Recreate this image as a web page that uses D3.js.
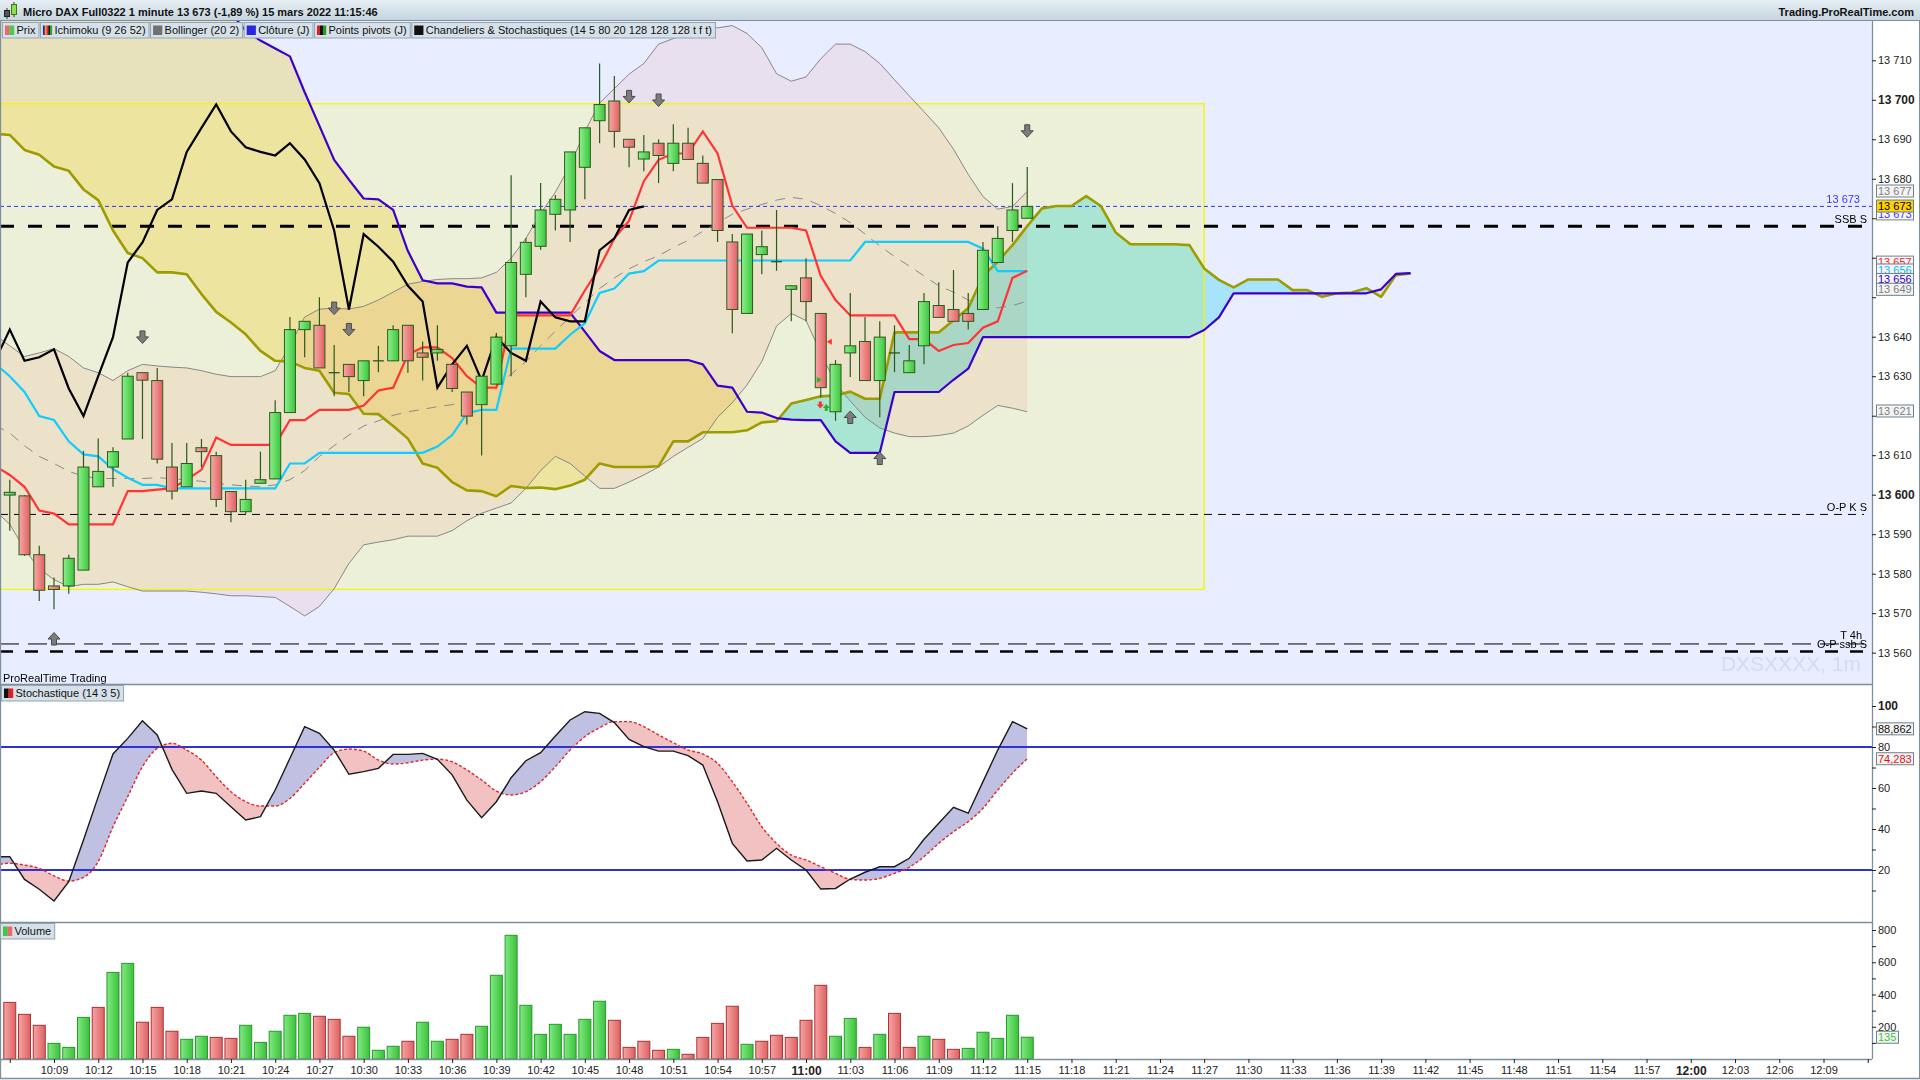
<!DOCTYPE html>
<html><head><meta charset="utf-8">
<script src="https://cdn.jsdelivr.net/npm/d3@7/dist/d3.min.js"></script>
<style>
html,body{margin:0;padding:0;background:#fff;}
svg{display:block;font-family:"Liberation Sans",Arial,sans-serif;}
</style></head><body>
<svg id="c" width="1920" height="1080"></svg>
<script>
// ---------------- DATA ----------------
const titleText = "Micro DAX Full0322 1 minute 13 673 (-1,89 %) 15 mars 2022 11:15:46";
const siteText = "Trading.ProRealTime.com";
const legendNames = ["Prix","Ichimoku (9 26 52)","Bollinger (20 2)","Clôture (J)","Points pivots (J)","Chandeliers & Stochastiques (14 5 80 20 128 128 128 t f t)"];
const watermark = "DXSXXXX, 1m";

const candleStart = "10:06";
const opens = [13599.9,13599.7,13584.8,13576.9,13576.9,13580.9,13602.0,13607.0,13614.1,13630.9,
 13628.9,13607.0,13602.0,13611.9,13609.9,13600.8,13595.7,13602.9,13604.0,13620.8,
 13641.8,13642.9,13630.9,13633.0,13628.9,13633.9,13633.9,13642.9,13635.9,13635.9,
 13633.0,13626.0,13622.8,13628.0,13637.7,13655.8,13662.9,13671.0,13672.1,13682.9,
 13694.7,13699.7,13690.0,13685.0,13689.0,13683.9,13689.0,13683.9,13679.8,13664.0,
 13645.9,13660.8,13659.0,13652.0,13654.9,13645.9,13621.0,13635.9,13638.8,13628.9,
 13635.9,13630.9,13637.7,13647.9,13646.9,13645.9,13646.9,13658.8,13666.9,13670.0];
const highs = [13603.8,13599.9,13587.1,13579.0,13584.8,13611.1,13614.2,13612.0,13630.9,13630.9,
 13632.1,13613.1,13613.1,13614.1,13610.9,13600.8,13603.8,13610.9,13623.9,13645.0,
 13643.9,13650.0,13637.9,13633.0,13633.9,13637.7,13642.9,13642.9,13638.8,13642.9,
 13633.0,13626.0,13630.0,13641.0,13680.9,13665.0,13678.9,13675.9,13686.8,13692.9,
 13709.2,13706.0,13690.0,13691.1,13690.0,13693.8,13692.9,13685.9,13679.8,13666.0,
 13666.0,13666.9,13672.1,13652.9,13659.9,13645.9,13634.1,13651.1,13645.0,13643.9,
 13642.9,13637.9,13651.1,13653.8,13656.9,13651.1,13664.0,13668.0,13678.9,13683.0];
const lows = [13590.9,13584.5,13573.1,13571.0,13574.9,13580.9,13602.0,13602.0,13614.1,13614.1,
 13607.9,13598.8,13602.0,13607.0,13596.9,13593.0,13595.2,13602.9,13604.0,13620.8,
 13634.8,13632.1,13624.9,13626.0,13624.9,13631.0,13633.9,13630.9,13628.9,13633.9,
 13626.0,13617.8,13609.9,13628.0,13630.0,13650.0,13662.0,13666.9,13664.0,13674.8,
 13689.0,13687.9,13682.9,13681.9,13678.9,13681.9,13684.9,13678.9,13664.0,13640.9,
 13645.9,13655.8,13656.7,13643.9,13643.9,13624.6,13618.7,13629.8,13628.9,13619.6,
 13631.0,13630.9,13633.0,13644.9,13643.9,13641.8,13646.9,13658.8,13664.0,13670.0];
const closes = [13600.6,13584.8,13575.8,13576.0,13583.9,13607.0,13605.9,13610.9,13630.0,13629.0,
 13609.0,13600.9,13607.9,13610.9,13598.8,13595.7,13598.8,13603.8,13620.8,13641.8,
 13643.9,13632.1,13630.9,13629.9,13633.9,13633.9,13641.8,13633.9,13634.8,13636.8,
 13626.9,13619.9,13630.0,13639.9,13658.8,13663.9,13672.1,13674.8,13686.8,13692.9,
 13698.8,13692.0,13688.0,13686.8,13685.9,13689.0,13684.9,13678.9,13666.9,13646.9,
 13666.0,13662.8,13659.0,13652.9,13648.9,13627.1,13633.0,13637.7,13628.9,13639.9,
 13635.9,13633.9,13648.9,13644.9,13643.9,13643.9,13661.9,13664.9,13672.1,13673.0];
const volumes = [351,277,209,97,72,258,320,537,593,228,
 320,172,122,141,134,128,209,103,172,271,
 283,265,246,141,197,54,79,110,228,110,
 122,153,203,519,767,333,153,215,153,246,
 358,240,72,110,54,60,29,134,221,327,
 91,110,147,134,240,457,141,252,72,153,
 283,72,141,122,60,66,166,128,271,135];
const volumeUp = [0,0,0,1,1,1,0,1,1,0,
 0,0,1,1,0,0,1,1,1,1,
 1,0,0,0,1,1,1,0,1,1,
 0,0,1,1,1,1,1,1,1,1,
 1,0,0,0,0,1,0,0,0,0,
 1,0,0,0,0,0,1,1,0,1,
 0,0,1,0,0,1,1,1,1,1];

const lineStart = "10:05";
const tenkan = [13607.3,13605.0,13602.0,13596.0,13595.2,13592.5,13592.5,13592.5,13592.5,13600.9,
 13600.9,13601.3,13601.6,13603.8,13606.3,13614.5,13612.6,13612.6,13612.6,13612.6,
 13618.9,13618.9,13621.5,13621.5,13621.5,13622.6,13626.4,13627.1,13635.5,13637.3,
 13637.3,13634.6,13630.0,13627.1,13627.1,13645.4,13645.4,13645.4,13645.4,13645.4,
 13651.7,13657.6,13664.9,13669.4,13679.4,13684.8,13686.4,13686.4,13692.0,13686.4,
 13673.2,13667.6,13667.6,13667.6,13667.6,13666.9,13655.4,13649.3,13645.4,13645.4,
 13645.4,13645.4,13639.4,13639.4,13636.4,13637.9,13638.4,13642.3,13643.9,13654.9,13656.7];
const kijun = [13633.2,13630.0,13626.0,13619.9,13618.9,13613.5,13610.2,13609.7,13606.5,13604.3,
 13602.5,13602.5,13601.6,13601.6,13601.6,13601.6,13601.6,13601.6,13601.6,13601.6,
 13607.9,13607.9,13610.6,13610.6,13610.6,13610.6,13610.6,13610.6,13610.6,13610.6,
 13612.2,13615.1,13620.6,13621.5,13621.5,13637.0,13637.0,13637.0,13637.0,13640.5,
 13643.4,13651.1,13652.2,13656.0,13656.6,13659.3,13659.3,13659.3,13659.3,13659.3,
 13659.3,13659.3,13659.3,13659.3,13659.3,13659.3,13659.3,13659.3,13659.3,13664.0,
 13664.0,13664.0,13664.0,13664.0,13664.0,13664.0,13664.0,13662.3,13656.6,13656.6,13656.6];
const chikou = [13633.9,13641.8,13633.9,13634.8,13636.8,13626.9,13619.9,13630.0,13639.9,13658.8,
 13663.9,13672.1,13674.8,13686.8,13692.9,13698.8,13692.0,13688.0,13686.8,13685.9,
 13689.0,13684.9,13678.9,13666.9,13646.9,13666.0,13662.8,13659.0,13652.9,13648.9,
 13627.1,13633.0,13637.7,13628.9,13639.9,13635.9,13633.9,13648.9,13644.9,13643.9,
 13643.9,13661.9,13664.9,13672.1,13673.0];
const spanA = [13691.4,13691.1,13687.3,13686.1,13683.1,13682.0,13677.3,13674.6,13666.9,13661.2,
 13659.9,13656.3,13656.3,13655.8,13650.8,13646.3,13643.6,13640.6,13636.4,13633.9,
 13633.7,13632.1,13631.4,13625.8,13625.5,13620.5,13620.4,13617.4,13614.2,13607.9,
 13606.8,13603.2,13601.1,13600.9,13599.6,13602.2,13601.7,13601.8,13601.4,13602.3,
 13603.8,13607.9,13607.0,13607.0,13607.0,13607.2,13613.5,13613.5,13615.8,13615.8,
 13615.8,13616.3,13618.3,13618.6,13623.1,13624.0,13624.9,13625.1,13626.1,13624.3,
 13624.3,13641.1,13641.1,13641.1,13641.1,13644.2,13647.2,13655.4,13659.0,13663.2,
 13668.0,13672.5,13673.1,13673.1,13675.6,13673.1,13666.4,13663.4,13663.4,13663.4,
 13663.4,13663.2,13657.3,13654.4,13652.5,13654.5,13654.5,13654.5,13651.8,13651.8,
 13650.1,13651.0,13651.2,13652.3,13650.1,13655.6,13656.0];
const spanB = [13730,13730,13730,13730,13730,13730,13730,13730,13730,13730,
 13730,13730,13730,13730,13730,13730,13722,13717.5,13715,13713,
 13711,13701.9,13693.4,13684.8,13679.8,13675.0,13674.8,13672.1,13661.7,13654.3,
 13653.5,13653.5,13652.7,13652.5,13646.1,13646.1,13646.1,13646.1,13646.1,13646.1,
 13641.3,13636.4,13634.1,13634.1,13634.1,13634.1,13634.1,13634.1,13633.0,13627.6,
 13627.1,13621.0,13620.8,13619.4,13619.0,13618.9,13618.9,13613.5,13610.6,13610.6,
 13610.6,13626.0,13626.0,13626.0,13626.0,13629.1,13631.9,13639.9,13639.9,13639.9,
 13639.9,13639.9,13639.9,13639.9,13639.9,13639.9,13639.9,13639.9,13639.9,13639.9,
 13639.9,13639.9,13641.7,13644.9,13651.0,13651.0,13651.0,13651.0,13651.0,13651.0,
 13651.0,13651.0,13651.0,13651.0,13652.0,13655.9,13656.1];
const bollUpper = [13640.4,13637.7,13635.0,13635.9,13637.0,13635.0,13632.1,13630.9,13628.9,13631.4,
 13633.0,13632.6,13632.3,13632.1,13631.4,13630.5,13629.9,13629.9,13629.9,13631.4,
 13637.7,13645.0,13647.0,13647.2,13647.0,13647.7,13649.3,13651.3,13653.3,13654.0,
 13654.5,13654.7,13654.7,13654.9,13656.3,13659.9,13664.9,13671.2,13676.6,13683.4,
 13692.0,13699.2,13702.8,13706.5,13709.2,13714.1,13715.5,13716.9,13719.1,13718.2,
 13718.8,13716.8,13713.2,13706.6,13704.7,13705.8,13710.4,13714.1,13714.1,13712.2,
 13709.2,13705.1,13701.0,13697.0,13692.9,13687.5,13681.1,13675.5,13672.3,13673.0,13676.8];
const bollMid = [13617.6,13615.6,13612.4,13609.7,13607.9,13605.9,13604.7,13604.1,13604.1,13604.1,
 13604.1,13604.3,13604.1,13603.7,13603.4,13602.9,13602.5,13602.2,13602.0,13602.5,
 13603.8,13606.1,13609.7,13612.4,13615.1,13617.4,13618.7,13620.1,13621.0,13621.6,
 13622.3,13622.8,13623.7,13625.5,13627.3,13630.5,13633.7,13637.7,13641.4,13645.0,
 13648.6,13652.2,13654.9,13657.2,13659.0,13660.5,13662.6,13664.4,13666.7,13668.9,
 13671.0,13672.3,13673.5,13674.6,13675.3,13674.8,13673.2,13671.2,13668.9,13666.0,
 13663.0,13660.3,13657.9,13655.4,13652.9,13651.3,13649.3,13647.9,13647.3,13647.9,13649.0];
const bollLower = [13596.0,13592.5,13586.2,13581.2,13578.5,13576.7,13577.3,13577.3,13577.9,13576.7,
 13575.6,13575.6,13575.6,13575.6,13575.3,13574.9,13574.4,13574.4,13574.2,13574.0,
 13571.7,13569.3,13571.7,13576.2,13582.6,13587.3,13588.0,13588.6,13589.5,13589.5,
 13589.5,13590.9,13593.4,13595.3,13596.6,13597.9,13601.6,13606.1,13609.7,13607.9,
 13604.7,13601.6,13601.6,13603.2,13605.0,13607.0,13609.7,13612.0,13614.2,13619.6,
 13623.3,13627.8,13633.7,13642.7,13645.9,13644.1,13635.9,13628.2,13623.7,13619.6,
 13616.9,13615.6,13614.7,13614.7,13615.0,13615.6,13617.4,13620.1,13622.6,13621.9,13621.0];
const stochK = [26.5,26.5,15.4,10.6,4.9,14.3,34.6,55.8,76.6,84.2,
 92.8,85.9,69.1,57.4,58.5,57.4,50.9,44.4,46.0,59.0,
 74.5,89.9,86.7,78.5,66.7,68.0,69.6,76.4,76.4,76.9,
 74.0,66.4,54.1,45.5,53.3,65.0,73.3,77.2,85.4,93.2,
 97.2,96.4,91.9,83.7,80.2,78.0,78.0,75.8,71.2,53.3,
 33.0,24.4,24.9,30.6,24.9,20.0,10.7,11.0,15.6,18.9,
 21.6,21.6,25.7,35.0,42.8,50.6,47.7,63.1,78.5,92.4,88.9];
const stochD = [22.5,23.3,22.4,20.8,17.1,14.6,16.4,24.1,41.1,55.8,
 70.4,79.3,81.8,78.5,73.6,65.5,58.2,53.3,51.2,51.2,
 54.9,62.3,70.1,77.2,79.0,78.0,73.6,71.7,72.3,73.6,
 74.1,72.8,68.8,63.9,58.5,56.6,58.2,63.1,70.4,78.5,
 85.0,89.4,92.4,92.4,89.9,85.9,82.1,78.5,76.6,72.0,
 63.1,52.5,41.1,33.0,27.3,24.9,21.6,18.4,15.4,15.1,
 15.9,18.4,21.3,26.5,33.0,38.7,43.6,50.1,59.0,67.2,74.3];
const stochLevels = [80, 20];

const boxStart = "10:00", boxEnd = "11:27", boxHigh = 13699, boxLow = 13576;
const levelNames = ["close", "SSB S", "O-P K S", "T 4h", "O-P ssb S"];
const levelPrices = [13673, 13668, 13595, 13562.2, 13560.3];
const levelLabels = ["13 673", "SSB S", "O-P K S", "T 4h", "O-P ssb S"];

const arrowDownTimes = ["10:15","10:28","10:29","10:48","10:50","11:15"];
const arrowDownPrices = [13639.7,13647.0,13641.6,13700.6,13699.7,13691.9];
const arrowUpTimes = ["10:09","11:03","11:05"];
const arrowUpPrices = [13563.7,13619.8,13609.4];

const priceTicks = d3.range(13560, 13711, 10);
const stochTicks = d3.range(10, 101, 10);
const volTicks = d3.range(100, 801, 100);
const timeTickStart = "10:06", timeTickEnd = "12:12";

const badgeKinds = ["close","tenkan","kijun","ssb","mid","lower","upper","last"];
const badgeTexts = ["13 673","13 657","13 656","13 656","13 649","13 621","13 677","13 673"];
const badgeAt = [13671.1,13658.9,13656.9,13654.5,13652.0,13621.2,13676.9,13673.1];
const stochBadgeTexts = ["88,862","74,283"], stochBadgeAt = [88.862, 74.283];
const volBadgeText = "135", volBadgeAt = 135;

// ---------------- LAYOUT ----------------
const svg = d3.select("#c");
const PR = 1872;
const priceTop = 21, priceBot = 684, stochTop = 685, stochBot = 922, volTop = 923, volBot = 1059;
const FONT = '"Liberation Sans",Arial,sans-serif';
const toMin = s => { const [h,m] = s.split(":").map(Number); return h*60+m; };
const x = d3.scaleLinear().domain([toMin("10:09"), toMin("12:09")]).range([54, 1823.5]);
const y = d3.scaleLinear().domain([13560, 13710]).range([652.65, 60.3]);
const ys = d3.scaleLinear().domain([20, 100]).range([870, 706]);
const yv = d3.scaleLinear().domain([0, 800]).range([volBot, 930]);
const c0 = toMin(candleStart), l0 = toMin(lineStart);

const defs = svg.append("defs");
function clipRect(id, x0, y0, w, h) {
  defs.append("clipPath").attr("id", id).append("rect").attr("x", x0).attr("y", y0).attr("width", w).attr("height", h);
}
clipRect("cpPrice", 0, priceTop, PR, priceBot - priceTop);
clipRect("cpStoch", 0, stochTop, PR, stochBot - stochTop);
clipRect("cpVol", 0, volTop, PR, volBot - volTop);
function hGrad(id, a, b) {
  const g = defs.append("linearGradient").attr("id", id).attr("x1", 0).attr("x2", 1).attr("y1", 0).attr("y2", 0);
  g.append("stop").attr("offset", 0).attr("stop-color", a);
  g.append("stop").attr("offset", 1).attr("stop-color", b);
}
hGrad("gUp", "#8cf08c", "#3cc53c");
hGrad("gDn", "#f8a8a8", "#e06060");
hGrad("vUp", "#80ea80", "#3cc03c");
hGrad("vDn", "#f7a4a4", "#dd6262");
const tg = defs.append("linearGradient").attr("id", "gTitle").attr("x1", 0).attr("x2", 0).attr("y1", 0).attr("y2", 1);
tg.append("stop").attr("offset", 0).attr("stop-color", "#e6eef4");
tg.append("stop").attr("offset", 1).attr("stop-color", "#c4d4df");

svg.append("rect").attr("width", 1920).attr("height", 1080).attr("fill", "#ffffff");

// ---------------- PRICE PANEL ----------------
const gP = svg.append("g").attr("clip-path", "url(#cpPrice)").style("isolation", "isolate");
gP.append("rect").attr("x", 0).attr("y", priceTop).attr("width", PR).attr("height", priceBot - priceTop).attr("fill", "#e8eeff");
gP.append("text").attr("x", 1861).attr("y", 671).attr("text-anchor", "end").attr("font-size", 21)
  .attr("font-family", FONT).attr("fill", "#d3dbf1").text(watermark);

// box
const bxa = x(toMin(boxStart)), bxb = x(toMin(boxEnd));
gP.append("rect").attr("x", bxa).attr("y", y(boxHigh)).attr("width", bxb - bxa).attr("height", y(boxLow) - y(boxHigh))
  .attr("fill", "#ecf0d8");

const lx = (d, i) => x(l0 + i);
// bollinger fill
gP.append("path").datum(bollUpper)
  .attr("d", d3.area().x(lx).y0((d, i) => y(bollLower[i])).y1(d => y(d)))
  .attr("fill", "rgb(255,240,238)").style("mix-blend-mode", "multiply");

// cloud fills
const clipA = defs.append("clipPath").attr("id", "cpAboveA");
clipA.append("path").datum(spanA).attr("d", d3.area().x(lx).y0(-50).y1(d => y(d)));
const clipB = defs.append("clipPath").attr("id", "cpAboveB");
clipB.append("path").datum(spanB).attr("d", d3.area().x(lx).y0(-50).y1(d => y(d)));
gP.append("path").datum(spanB).attr("d", d3.area().x(lx).y0(d => y(d)).y1(800))
  .attr("clip-path", "url(#cpAboveA)").attr("fill", "rgb(255,243,188)").style("mix-blend-mode", "multiply");
gP.append("path").datum(spanA).attr("d", d3.area().x(lx).y0(d => y(d)).y1(800))
  .attr("clip-path", "url(#cpAboveB)").attr("fill", "rgb(184,244,250)").style("mix-blend-mode", "multiply");

// box border
gP.append("rect").attr("x", bxa).attr("y", y(boxHigh)).attr("width", bxb - bxa).attr("height", y(boxLow) - y(boxHigh))
  .attr("fill", "none").attr("stroke", "#f5f500").attr("stroke-width", 1.3);

// horizontal levels
const levelStyle = {
  "close": {c: "#3535ff", w: 1, dash: "4,3", end: PR},
  "SSB S": {c: "#000", w: 3, dash: "14,14", end: 1864},
  "O-P K S": {c: "#000", w: 1, dash: "8,6", end: 1864},
  "T 4h": {c: "#000", w: 1, dash: "19,9", end: 1864},
  "O-P ssb S": {c: "#000", w: 2.5, dash: "13,12", end: 1864}
};
levelNames.forEach((n, i) => {
  const s = levelStyle[n];
  gP.append("line").attr("x1", 0).attr("x2", s.end).attr("y1", y(levelPrices[i])).attr("y2", y(levelPrices[i]))
    .attr("stroke", s.c).attr("stroke-width", s.w).attr("stroke-dasharray", s.dash);
});

// bollinger lines
const pline = d3.line().x(lx).y(d => y(d));
gP.append("path").datum(bollUpper).attr("d", pline).attr("fill", "none").attr("stroke", "#878787").attr("stroke-width", 1);
gP.append("path").datum(bollLower).attr("d", pline).attr("fill", "none").attr("stroke", "#878787").attr("stroke-width", 1);
gP.append("path").datum(bollMid).attr("d", pline).attr("fill", "none").attr("stroke", "#8a8a8a").attr("stroke-width", 1).attr("stroke-dasharray", "10,8");

// ichimoku lines
gP.append("path").datum(spanA).attr("d", pline).attr("fill", "none").attr("stroke", "#9c9c00").attr("stroke-width", 2.6).attr("stroke-linejoin", "round");
gP.append("path").datum(spanB).attr("d", pline).attr("fill", "none").attr("stroke", "#3a00cc").attr("stroke-width", 2.2).attr("stroke-linejoin", "round");
gP.append("path").datum(kijun).attr("d", pline).attr("fill", "none").attr("stroke", "#10ccff").attr("stroke-width", 2.2);
gP.append("path").datum(tenkan).attr("d", pline).attr("fill", "none").attr("stroke", "#ff3535").attr("stroke-width", 2.2);
gP.append("path").datum(chikou).attr("d", pline).attr("fill", "none").attr("stroke", "#000").attr("stroke-width", 2.2);

// candles
const BW = 11;
const gC = gP.append("g");
opens.forEach((o, i) => {
  const cx = x(c0 + i), c = closes[i], up = c >= o;
  gC.append("line").attr("x1", cx).attr("x2", cx).attr("y1", y(highs[i])).attr("y2", y(lows[i]))
    .attr("stroke", "#2b5a1c").attr("stroke-width", 1.2);
  const top = y(Math.max(o, c)), h = Math.abs(y(o) - y(c));
  if (h < 1.5) {
    gC.append("line").attr("x1", cx - BW/2).attr("x2", cx + BW/2).attr("y1", top).attr("y2", top)
      .attr("stroke", "#2b5a1c").attr("stroke-width", 1.3);
  } else {
    gC.append("rect").attr("x", cx - BW/2).attr("y", top).attr("width", BW).attr("height", h)
      .attr("fill", up ? "url(#gUp)" : "url(#gDn)").attr("stroke", "#2b5a1c").attr("stroke-width", 1);
  }
});

// arrows
function arrow(cx, cy, down) {
  const s = down ? 1 : -1;
  const p = `M${cx-2.5},${cy-7*s} L${cx+2.5},${cy-7*s} L${cx+2.5},${cy-1*s} L${cx+6},${cy-1*s} L${cx},${cy+5.5*s} L${cx-6},${cy-1*s} L${cx-2.5},${cy-1*s} Z`;
  gP.append("path").attr("d", p).attr("fill", "#7c7c7c").attr("stroke", "#4a4a4a").attr("stroke-width", 1);
}
arrowDownTimes.forEach((t, i) => arrow(x(toMin(t)), y(arrowDownPrices[i]), true));
arrowUpTimes.forEach((t, i) => arrow(x(toMin(t)), y(arrowUpPrices[i]), false));
// small signal marks near 11:01
(function(){
  const cx = x(toMin("11:01"));
  gP.append("path").attr("d", `M${cx-2},${y(13623.6)} h3 v3 h2 l-3.5,4 l-3.5,-4 h2 z`).attr("fill", "#ff3030");
  gP.append("path").attr("d", `M${cx+4},${y(13621.2)} h3 v-3 h2 l-3.5,-4 l-3.5,4 h2 z`).attr("fill", "#22bb22");
  gP.append("path").attr("d", `M${cx+11},${y(13638.7)-3} l-5,3 l5,3 z`).attr("fill", "#ff3030");
  gP.append("path").attr("d", `M${cx-4},${y(13629.1)-3} l5,3 l-5,3 z`).attr("fill", "#22bb22");
})();

// level labels
const labelRight = {"close": 1860, "SSB S": 1867, "O-P K S": 1867, "T 4h": 1862, "O-P ssb S": 1867};
levelNames.forEach((n, i) => {
  const yy = y(levelPrices[i]);
  const dy = n === "O-P ssb S" ? -3 : (n === "T 4h" ? -5 : -3.5);
  gP.append("text").attr("x", labelRight[n]).attr("y", yy + dy).attr("text-anchor", "end")
    .attr("font-size", 11).attr("font-family", FONT).attr("fill", n === "close" ? "#3a3aff" : "#000").text(levelLabels[i]);
});
gP.append("text").attr("x", 3).attr("y", 681.5).attr("font-size", 11).attr("font-family", FONT).attr("fill", "#000").text("ProRealTime Trading");

// ---------------- STOCH PANEL ----------------
const gS = svg.append("g").attr("clip-path", "url(#cpStoch)");
gS.append("rect").attr("x", 0).attr("y", stochTop).attr("width", PR).attr("height", stochBot - stochTop).attr("fill", "#fff");
const kLine = d3.line().x(lx).y(d => ys(d));
const dLine = d3.line().x(lx).y(d => ys(d)).curve(d3.curveMonotoneX);
const cD = defs.append("clipPath").attr("id", "cpAboveD");
cD.append("path").datum(stochD).attr("d", d3.area().x(lx).y0(600).y1(d => ys(d)).curve(d3.curveMonotoneX));
const cK = defs.append("clipPath").attr("id", "cpAboveK");
cK.append("path").datum(stochK).attr("d", d3.area().x(lx).y0(600).y1(d => ys(d)));
gS.append("path").datum(stochK).attr("d", d3.area().x(lx).y0(d => ys(d)).y1(1000))
  .attr("clip-path", "url(#cpAboveD)").attr("fill", "#c0c0e2");
gS.append("path").datum(stochD).attr("d", d3.area().x(lx).y0(d => ys(d)).y1(1000).curve(d3.curveMonotoneX))
  .attr("clip-path", "url(#cpAboveK)").attr("fill", "#f2c1c1");
stochLevels.forEach(v => {
  gS.append("line").attr("x1", 0).attr("x2", PR).attr("y1", ys(v)).attr("y2", ys(v)).attr("stroke", "#3030d8").attr("stroke-width", 2.2);
});
gS.append("path").datum(stochD).attr("d", dLine).attr("fill", "none").attr("stroke", "#e02828").attr("stroke-width", 1.4).attr("stroke-dasharray", "3,2");
gS.append("path").datum(stochK).attr("d", kLine).attr("fill", "none").attr("stroke", "#1a1a1a").attr("stroke-width", 1.4);

// ---------------- VOLUME PANEL ----------------
const gV = svg.append("g").attr("clip-path", "url(#cpVol)");
volumes.forEach((v, i) => {
  const cx = x(c0 + i), up = volumeUp[i] === 1;
  gV.append("rect").attr("x", cx - 6).attr("y", yv(v)).attr("width", 12).attr("height", volBot - yv(v))
    .attr("fill", up ? "url(#vUp)" : "url(#vDn)").attr("stroke", up ? "#25992a" : "#a83232").attr("stroke-width", 1);
});

// ---------------- FRAME & AXES ----------------
const frame = "#7d8e9c";
svg.append("rect").attr("x", PR).attr("y", priceTop).attr("width", 1920 - PR).attr("height", volBot - priceTop).attr("fill", "#fff");
[priceBot, stochBot, volBot].forEach(yy => {
  svg.append("line").attr("x1", 0).attr("x2", PR).attr("y1", yy + 0.5).attr("y2", yy + 0.5).attr("stroke", frame).attr("stroke-width", 1.3);
});
svg.append("line").attr("x1", PR + 0.5).attr("x2", PR + 0.5).attr("y1", priceTop).attr("y2", volBot).attr("stroke", frame).attr("stroke-width", 1.3);
svg.append("line").attr("x1", 0.5).attr("x2", 0.5).attr("y1", priceTop).attr("y2", 1079).attr("stroke", frame).attr("stroke-width", 1.3);
svg.append("line").attr("x1", 0).attr("x2", 1920).attr("y1", 1078.5).attr("y2", 1078.5).attr("stroke", frame).attr("stroke-width", 1.3);
svg.append("line").attr("x1", 1919.5).attr("x2", 1919.5).attr("y1", 0).attr("y2", 1079).attr("stroke", frame).attr("stroke-width", 1);

const fmtP = d => { const s = String(Math.round(d)); return s.slice(0, 2) + " " + s.slice(2); };
// tick labels that sit under a value badge are hidden by it (as in the original)
const badgeYs = badgeAt.map(p => y(p));
const coveredByBadge = d => badgeYs.some(by => Math.abs(by - y(d)) < 9);
function styleAxis(g) {
  g.select(".domain").remove();
  g.attr("font-family", FONT).attr("font-size", 11).style("color", "#222");
}
const gPA = svg.append("g").attr("transform", `translate(${PR},0)`)
  .call(d3.axisRight(y).tickValues(priceTicks).tickSize(4).tickPadding(2).tickFormat(d => coveredByBadge(d) ? "" : fmtP(d)));
styleAxis(gPA);
gPA.selectAll(".tick text").attr("font-weight", d => d % 100 === 0 ? "bold" : "normal").attr("font-size", d => d % 100 === 0 ? 12 : 11);

const gSA = svg.append("g").attr("transform", `translate(${PR},0)`)
  .call(d3.axisRight(ys).tickValues(stochTicks).tickSize(4).tickPadding(2).tickFormat(d => d % 20 === 0 ? d : ""));
styleAxis(gSA);
gSA.selectAll(".tick text").attr("font-weight", d => d === 100 ? "bold" : "normal").attr("font-size", d => d === 100 ? 12 : 11);

const gVA = svg.append("g").attr("transform", `translate(${PR},0)`)
  .call(d3.axisRight(yv).tickValues(volTicks).tickSize(4).tickPadding(2).tickFormat(d => d % 200 === 0 ? d : ""));
styleAxis(gVA);

const timeTicks = d3.range(toMin(timeTickStart), toMin(timeTickEnd) + 1, 3);
const fmtT = m => { const h = Math.floor(m / 60), mm = m % 60; return h + ":" + String(mm).padStart(2, "0"); };
const gTA = svg.append("g").attr("transform", `translate(0,${volBot})`)
  .call(d3.axisBottom(x).tickValues(timeTicks).tickSize(4).tickPadding(3)
    .tickFormat(m => (m === toMin(timeTickStart) || m === toMin(timeTickEnd)) ? "" : fmtT(m)));
styleAxis(gTA);
gTA.selectAll(".tick text").attr("font-weight", d => d % 60 === 0 ? "bold" : "normal").attr("font-size", d => d % 60 === 0 ? 12 : 11);

// badges
function badge(yc, txt, fill, color, w) {
  const g = svg.append("g");
  g.append("rect").attr("x", 1876.5).attr("y", yc - 6).attr("width", w).attr("height", 12)
    .attr("fill", fill).attr("stroke", "#6f808e").attr("stroke-width", 1);
  g.append("text").attr("x", 1878).attr("y", yc + 4).attr("font-size", 11).attr("font-family", FONT).attr("fill", color).text(txt);
}
const badgeStyle = {
  close: ["#f4f6fa", "#3a3aff"], tenkan: ["#f4f6fa", "#ff2020"], kijun: ["#f4f6fa", "#10b8f0"],
  ssb: ["#f4f6fa", "#3300cc"], mid: ["#f4f4f4", "#808080"], lower: ["#f4f4f4", "#808080"],
  upper: ["#f4f4f4", "#808080"], last: ["#ffd200", "#000"]
};
badgeKinds.forEach((k, i) => badge(y(badgeAt[i]), badgeTexts[i], badgeStyle[k][0], badgeStyle[k][1], 37));
badge(ys(stochBadgeAt[0]), stochBadgeTexts[0], "#f4f4f4", "#111", 37);
badge(ys(stochBadgeAt[1]), stochBadgeTexts[1], "#f4f4f4", "#e01010", 37);
badge(yv(volBadgeAt), volBadgeText, "#f4f4f4", "#33cc33", 22);

// ---------------- TITLE & LEGENDS ----------------
svg.append("rect").attr("x", 0).attr("y", 0).attr("width", 1920).attr("height", priceTop).attr("fill", "url(#gTitle)");
svg.append("line").attr("x1", 0).attr("x2", 1920).attr("y1", priceTop - 0.5).attr("y2", priceTop - 0.5).attr("stroke", frame);
// title icon
svg.append("line").attr("x1", 7).attr("x2", 7).attr("y1", 8).attr("y2", 19).attr("stroke", "#333");
svg.append("rect").attr("x", 4.5).attr("y", 10.5).attr("width", 5).attr("height", 6).attr("fill", "#555").attr("stroke", "#222");
svg.append("line").attr("x1", 14).attr("x2", 14).attr("y1", 2).attr("y2", 17).attr("stroke", "#333");
svg.append("rect").attr("x", 11.5).attr("y", 4.5).attr("width", 5).attr("height", 10).attr("fill", "#8ee04a").attr("stroke", "#3a7a1a");
svg.append("text").attr("x", 23).attr("y", 16).attr("font-size", 11).attr("font-weight", "bold").attr("font-family", FONT).attr("fill", "#111").text(titleText);
svg.append("text").attr("x", 1914).attr("y", 15.5).attr("text-anchor", "end").attr("font-size", 11).attr("font-weight", "bold").attr("font-family", FONT).attr("fill", "#111").text(siteText);

const legendIcons = [
  ["#e86a6a", "#4cc84c"],
  ["#2020e0", "#ff9900", "#ff2020", "#111111", "#20b020"],
  ["#707070"],
  ["#2828e0"],
  ["#e02020", "#111111", "#20a020"],
  ["#111111"]
];
function legendBox(x0, y0, h, txt, icons) {
  const g = svg.append("g");
  const r = g.append("rect").attr("x", x0 + 0.5).attr("y", y0 + 0.5).attr("height", h).attr("fill", "#d5e0e8").attr("stroke", "#93a4b2");
  const iw = 9, stripe = iw / icons.length;
  icons.forEach((c, j) => g.append("rect").attr("x", x0 + 3 + j * stripe).attr("y", y0 + 3.5).attr("width", stripe + 0.2).attr("height", h - 6).attr("fill", c));
  const t = g.append("text").attr("x", x0 + 14.5).attr("y", y0 + h - 4).attr("font-size", 11).attr("font-family", FONT).attr("fill", "#111").text(txt);
  const w = 14.5 + t.node().getComputedTextLength() + 3;
  r.attr("width", w);
  return w;
}
let lxp = 2;
legendNames.forEach((n, i) => { lxp += legendBox(lxp, 22, 15.5, n, legendIcons[i]) + 1.5; });
legendBox(1, stochTop, 15.5, "Stochastique (14 3 5)", ["#111111", "#e02020"]);
legendBox(0, volTop, 15.5, "Volume", ["#40c840", "#e86a6a"]);
</script>
</body></html>
